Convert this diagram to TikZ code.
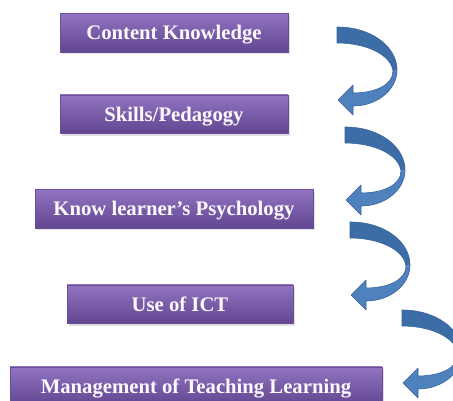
\documentclass[tikz,border=0pt]{standalone}
\usepackage{fontspec}
\setmainfont{Liberation Serif}
\usepackage{xcolor}
\usepackage{tikz}
\usetikzlibrary{shadows}

\definecolor{boxtop}{HTML}{9274C2}
\definecolor{boxmid}{HTML}{7D5CAB}
\definecolor{boxbot}{HTML}{624690}
\definecolor{boxline}{HTML}{6A4E98}
\definecolor{arrdark}{HTML}{3D6DA6}
\definecolor{arrlight}{HTML}{4F81BE}
\definecolor{arrline}{HTML}{37649A}

\begin{document}
\begin{tikzpicture}[
  x=1pt, y=-1pt,
  font=\bfseries\fontsize{20.7}{24}\selectfont,
  topic/.style={
    draw=boxline, line width=0.4pt,
    top color=boxtop, middle color=boxmid, bottom color=boxbot,
    text=white!96!boxtop, inner sep=0pt,
    minimum height=38.5pt, text height=14pt, text depth=0pt,
    drop shadow={shadow xshift=1.5pt, shadow yshift=-2.5pt, opacity=0.25}
  },
  twist/.pic={
    % upper band, darker
    \fill[arrdark] (0,0) .. controls (35,0) and (60,20) .. (60,43)
      -- (56,44) .. controls (54,28) and (30,16) .. (0,16) -- cycle;
    % lower band with head
    \fill[arrlight] (60,43) .. controls (60,63) and (40,79) .. (16,79)
      -- (16,88) -- (1,73) -- (16,58) -- (16,66)
      .. controls (38,66) and (56,58) .. (56,44) -- cycle;
    \draw[arrline, line width=0.6pt, line join=round]
      (0,0) .. controls (35,0) and (60,20) .. (60,43)
      .. controls (60,63) and (40,79) .. (16,79)
      -- (16,88) -- (1,73) -- (16,58) -- (16,66)
      .. controls (38,66) and (56,58) .. (56,44)
      .. controls (54,28) and (30,16) .. (0,16) -- cycle;
  }
]
  \clip (0,0) rectangle (453,400);

  \node[topic, minimum width=228pt] (know) at (174,32.5) {Content Knowledge};
  \node[topic, minimum width=228pt] (skill) at (174,114) {Skills/Pedagogy};
  \node[topic, minimum width=278pt] (psych) at (174,208.5) {Know learner’s Psychology};
  \node[topic, minimum width=226pt] (ict) at (180,304) {Use of ICT};
  \node[topic, minimum width=372pt] (manage) at (196,386) {Management of Teaching Learning};

  \pic at (337,27) {twist};
  \pic at (345,127) {twist};
  \pic at (350,222) {twist};
  \pic at (402,310) {twist};
\end{tikzpicture}
\end{document}
